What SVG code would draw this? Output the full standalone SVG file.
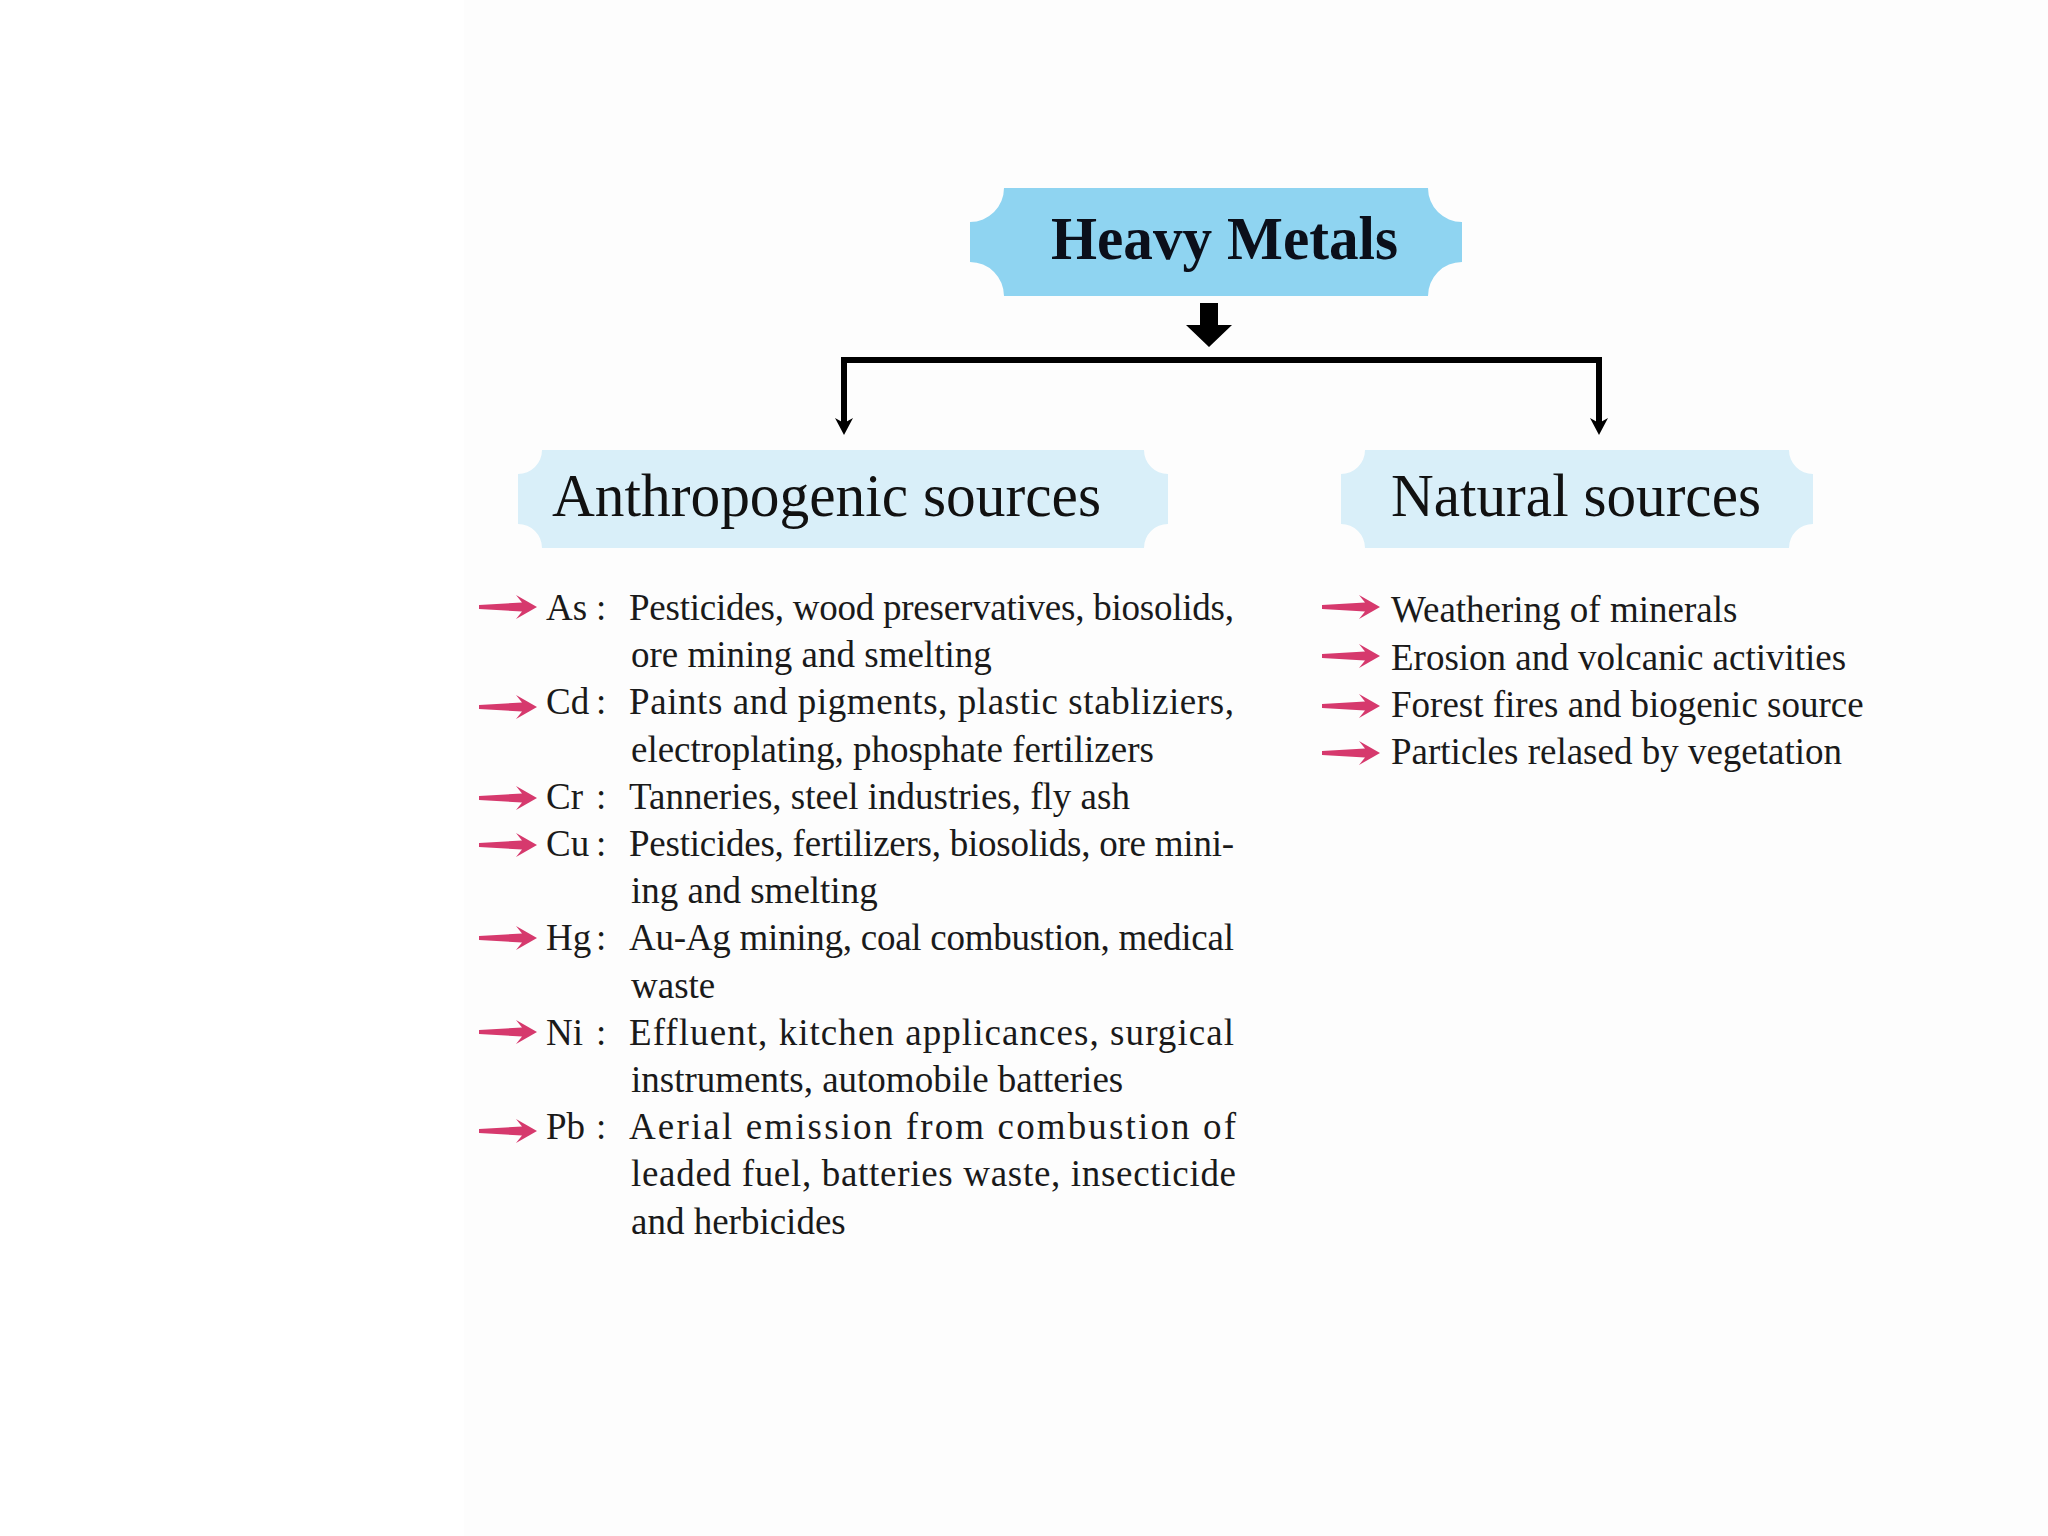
<svg xmlns="http://www.w3.org/2000/svg" width="2048" height="1536" viewBox="0 0 2048 1536">
<style>
.title{font-family:"Liberation Serif","Times New Roman",serif;font-weight:bold;font-size:62px;fill:#0b0f1a}
.head{font-family:"Liberation Serif","Times New Roman",serif;font-size:61px;fill:#111}
.item{font-family:"Liberation Serif","Times New Roman",serif;font-size:37px;fill:#1a1a1a}
.conn{fill:none;stroke:#000;stroke-width:6}
</style>
<defs>
<path id="bullet" d="M0,-2 L43,-4.5 L37,-12 L58,0 L37,12 L43,4.5 L0,2 Z" fill="#d6396d"/>
</defs>
<rect x="0" y="0" width="2048" height="1536" fill="#ffffff"/>
<rect x="464" y="0" width="1584" height="1536" fill="#fdfdfd"/>

<g id="heavy-metals">
<path d="M1004,188 H1428 A34 34 0 0 0 1462,222 V262 A34 34 0 0 0 1428,296 H1004 A34 34 0 0 0 970,262 V222 A34 34 0 0 0 1004,188 Z" fill="#8fd4f1"/>
<text class="title" x="1051" y="259" textLength="347" lengthAdjust="spacingAndGlyphs">Heavy Metals</text>
</g>

<g id="connectors">
<polygon points="1200,303 1218,303 1218,325 1232,325 1209,347 1186,325 1200,325" fill="#000"/>
<path class="conn" d="M844,424 V360 H1599 V424"/>
<polygon points="835,418 844,423 853,418 844,435" fill="#000"/>
<polygon points="1590,418 1599,423 1608,418 1599,435" fill="#000"/>
</g>

<g id="anthropogenic">
<path d="M542,450 H1144 A24 24 0 0 0 1168,474 V524 A24 24 0 0 0 1144,548 H542 A24 24 0 0 0 518,524 V474 A24 24 0 0 0 542,450 Z" fill="#d9eff9"/>
<text class="head" x="552" y="516" textLength="549" lengthAdjust="spacingAndGlyphs">Anthropogenic sources</text>
</g>

<g id="natural">
<path d="M1365,450 H1789 A24 24 0 0 0 1813,474 V524 A24 24 0 0 0 1789,548 H1365 A24 24 0 0 0 1341,524 V474 A24 24 0 0 0 1365,450 Z" fill="#d9eff9"/>
<text class="head" x="1391" y="516" textLength="370" lengthAdjust="spacingAndGlyphs">Natural sources</text>
</g>

<g id="anthropogenic-list">
<use href="#bullet" x="479" y="607"/>
<text class="item" x="546" y="620">As <tspan x="596">:</tspan></text>
<text class="item" x="629" y="620" textLength="605" lengthAdjust="spacing">Pesticides, wood preservatives, biosolids,</text>
<text class="item" x="631" y="667">ore mining and smelting</text>

<use href="#bullet" x="479" y="707"/>
<text class="item" x="546" y="714">Cd <tspan x="596">:</tspan></text>
<text class="item" x="629" y="714" textLength="605" lengthAdjust="spacing">Paints and pigments, plastic stabliziers,</text>
<text class="item" x="631" y="762">electroplating, phosphate fertilizers</text>

<use href="#bullet" x="479" y="798"/>
<text class="item" x="546" y="809">Cr <tspan x="596">:</tspan></text>
<text class="item" x="629" y="809">Tanneries, steel industries, fly ash</text>

<use href="#bullet" x="479" y="845"/>
<text class="item" x="546" y="856">Cu <tspan x="596">:</tspan></text>
<text class="item" x="629" y="856" textLength="605" lengthAdjust="spacing">Pesticides, fertilizers, biosolids, ore mini-</text>
<text class="item" x="631" y="903">ing and smelting</text>

<use href="#bullet" x="479" y="938"/>
<text class="item" x="546" y="950">Hg<tspan x="596">:</tspan></text>
<text class="item" x="629" y="950" textLength="605" lengthAdjust="spacing">Au-Ag mining, coal combustion, medical</text>
<text class="item" x="631" y="998">waste</text>

<use href="#bullet" x="479" y="1032"/>
<text class="item" x="546" y="1045">Ni <tspan x="596">:</tspan></text>
<text class="item" x="629" y="1045" textLength="605" lengthAdjust="spacing">Effluent, kitchen applicances, surgical</text>
<text class="item" x="631" y="1092">instruments, automobile batteries</text>

<use href="#bullet" x="479" y="1131"/>
<text class="item" x="546" y="1139">Pb <tspan x="596">:</tspan></text>
<text class="item" x="629" y="1139" textLength="607" lengthAdjust="spacing">Aerial emission from combustion of</text>
<text class="item" x="631" y="1186" textLength="605" lengthAdjust="spacing">leaded fuel, batteries waste, insecticide</text>
<text class="item" x="631" y="1234">and herbicides</text>
</g>

<g id="natural-list">
<use href="#bullet" x="1322" y="607"/>
<text class="item" x="1391" y="622">Weathering of minerals</text>
<use href="#bullet" x="1322" y="656"/>
<text class="item" x="1391" y="670">Erosion and volcanic activities</text>
<use href="#bullet" x="1322" y="706"/>
<text class="item" x="1391" y="717">Forest fires and biogenic source</text>
<use href="#bullet" x="1322" y="753"/>
<text class="item" x="1391" y="764">Particles relased by vegetation</text>
</g>
</svg>
